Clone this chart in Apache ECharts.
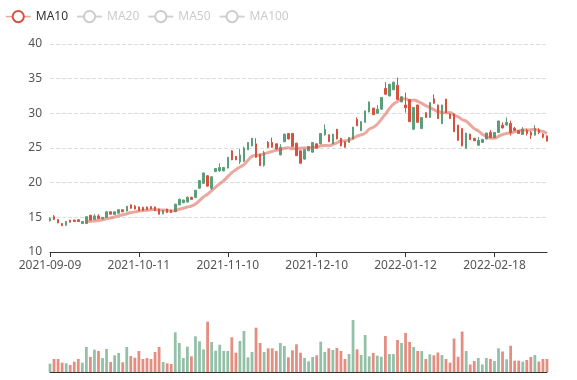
<!DOCTYPE html>
<html>
<head>
<meta charset="utf-8">
<script src="https://cdn.jsdelivr.net/npm/echarts@6/dist/echarts.min.js"></script>
<style>html,body{margin:0;padding:0;background:#fff;}#chart{width:577px;height:380px;}</style>
</head>
<body>
<div id="chart"></div>
<script>
const dates = [
'2021-09-09','2021-09-10','2021-09-13','2021-09-14','2021-09-15','2021-09-16','2021-09-17','2021-09-20','2021-09-21','2021-09-22',
'2021-09-23','2021-09-24','2021-09-27','2021-09-28','2021-09-29','2021-09-30','2021-10-01','2021-10-04','2021-10-05','2021-10-06',
'2021-10-07','2021-10-08','2021-10-11','2021-10-12','2021-10-13','2021-10-14','2021-10-15','2021-10-18','2021-10-19','2021-10-20',
'2021-10-21','2021-10-22','2021-10-25','2021-10-26','2021-10-27','2021-10-28','2021-10-29','2021-11-01','2021-11-02','2021-11-03',
'2021-11-04','2021-11-05','2021-11-08','2021-11-09','2021-11-10','2021-11-11','2021-11-12','2021-11-15','2021-11-16','2021-11-17',
'2021-11-18','2021-11-19','2021-11-22','2021-11-23','2021-11-24','2021-11-25','2021-11-26','2021-11-29','2021-11-30','2021-12-01',
'2021-12-02','2021-12-03','2021-12-06','2021-12-07','2021-12-08','2021-12-09','2021-12-10','2021-12-13','2021-12-14','2021-12-15',
'2021-12-16','2021-12-17','2021-12-20','2021-12-21','2021-12-22','2021-12-23','2021-12-24','2021-12-27','2021-12-28','2021-12-29',
'2021-12-30','2021-12-31','2022-01-04','2022-01-05','2022-01-06','2022-01-07','2022-01-10','2022-01-11','2022-01-12','2022-01-13',
'2022-01-14','2022-01-17','2022-01-18','2022-01-19','2022-01-20','2022-01-21','2022-01-24','2022-01-25','2022-01-26','2022-01-27',
'2022-01-28','2022-02-07','2022-02-08','2022-02-09','2022-02-10','2022-02-11','2022-02-14','2022-02-15','2022-02-16','2022-02-17',
'2022-02-18','2022-02-21','2022-02-22','2022-02-23','2022-02-24','2022-02-25','2022-02-28','2022-03-01','2022-03-02','2022-03-03',
'2022-03-04','2022-03-07','2022-03-08','2022-03-09'];

const opens = [
14.50,15.10,14.70,14.10,13.85,14.60,14.60,14.65,14.10,14.10,
15.30,14.70,15.20,14.80,15.00,15.80,15.40,15.60,16.10,15.90,
16.80,16.60,16.50,16.45,16.50,16.55,16.50,16.20,15.50,16.20,
16.05,15.80,16.80,17.10,17.20,17.90,17.85,19.20,19.90,21.00,
19.20,21.60,21.70,21.70,22.10,24.60,23.80,23.00,23.10,24.75,
25.30,25.60,24.10,22.50,25.80,25.80,25.60,24.00,25.90,27.10,
27.10,25.70,24.60,23.40,24.60,24.40,25.60,25.60,26.90,26.90,
25.60,27.70,26.40,25.90,25.80,26.30,29.15,27.50,28.70,30.20,
30.75,30.00,30.60,33.60,32.50,33.40,34.05,31.65,31.20,32.00,
27.70,31.20,27.80,30.10,29.40,32.10,31.20,28.50,32.05,29.90,
29.90,28.30,27.80,24.95,27.00,26.40,25.40,25.80,26.30,27.25,
26.50,27.25,28.30,28.30,28.55,27.85,27.50,26.95,27.55,27.25,
26.85,27.60,27.00,26.75];

const closes = [
14.85,14.70,14.20,13.80,14.40,14.30,14.40,14.40,14.40,15.10,
14.60,15.20,14.80,15.00,15.80,15.45,15.80,16.10,15.80,16.60,
16.30,16.20,15.95,16.00,16.10,16.20,15.95,15.45,16.00,15.70,
15.70,16.90,17.60,17.50,17.90,17.60,18.90,20.30,21.40,19.50,
20.85,22.05,22.20,22.20,23.65,23.30,23.30,24.00,25.00,25.80,
26.40,23.65,22.45,24.30,25.10,25.10,24.85,25.10,27.00,26.30,
25.20,23.90,22.80,24.75,25.20,25.80,25.00,27.10,27.70,25.90,
27.00,26.30,25.30,25.10,26.50,28.00,28.20,28.80,30.35,31.65,
29.80,30.60,32.30,32.75,34.20,34.50,32.00,32.40,30.80,28.80,
30.85,28.70,29.40,29.40,31.55,31.45,29.25,31.20,30.10,29.25,
27.35,26.10,25.30,27.15,26.20,26.05,26.10,26.25,27.15,26.50,
27.25,28.90,27.90,28.70,27.25,27.55,27.10,27.70,27.10,26.85,
27.80,27.25,26.55,26.00];

const lows = [
14.40,14.60,14.15,13.75,13.80,14.25,14.35,14.35,14.05,14.05,
14.55,14.60,14.75,14.70,14.95,15.40,15.35,15.55,15.75,15.85,
16.25,16.15,15.90,15.95,16.05,16.15,15.90,15.40,15.45,15.65,
15.65,15.75,16.75,17.05,17.15,17.55,17.80,19.10,19.85,19.45,
18.95,21.55,21.55,21.65,22.05,23.25,23.25,22.70,23.00,24.70,
25.25,23.60,22.40,22.30,25.05,25.05,24.80,23.95,25.85,26.25,
25.15,23.85,22.75,23.30,24.55,24.35,24.95,25.55,26.80,25.85,
25.55,26.25,25.25,25.05,25.75,26.25,28.15,27.45,28.65,30.15,
29.75,29.95,30.55,32.70,32.45,33.35,31.95,31.60,30.10,28.75,
27.65,28.65,27.75,29.35,29.35,31.40,29.20,28.45,30.05,29.20,
27.30,26.05,25.25,24.90,26.15,26.00,25.35,25.75,26.25,26.45,
26.45,27.20,27.80,28.25,26.80,27.40,27.05,26.90,26.80,26.30,
26.80,27.00,26.40,25.95];

const highs = [
15.00,15.35,14.75,14.15,14.45,14.65,14.65,14.70,14.45,15.15,
15.35,15.45,15.45,15.05,15.85,15.85,15.85,16.20,16.15,16.65,
16.85,16.80,16.55,16.50,16.55,16.60,16.55,16.25,16.05,16.25,
16.10,16.95,17.70,17.55,18.00,17.95,18.95,20.35,21.45,21.10,
20.90,22.10,22.80,22.25,23.70,24.70,23.85,24.85,25.20,25.85,
26.45,26.40,24.15,24.60,26.00,26.50,25.65,25.55,27.05,27.15,
27.15,25.75,24.65,24.80,25.25,25.85,25.65,27.15,28.40,26.95,
27.05,27.75,26.45,25.95,26.55,28.05,29.40,28.85,30.40,31.70,
30.80,31.20,32.35,34.50,34.25,34.55,35.15,32.45,33.00,32.05,
30.90,31.25,29.45,30.15,31.60,32.75,31.25,31.25,32.10,29.95,
29.95,28.35,27.85,27.20,27.05,26.45,26.60,26.30,27.20,27.60,
27.30,28.95,28.70,29.40,28.95,28.05,27.55,28.00,27.80,27.45,
28.30,27.85,27.10,26.80];

const volumes = [
83000,130000,130000,93000,87000,70000,103000,130000,93000,250000,
150000,223000,210000,140000,230000,100000,167000,190000,97000,250000,
160000,143000,210000,130000,140000,130000,200000,250000,100000,87000,
80000,397000,290000,140000,253000,157000,357000,307000,227000,503000,
300000,213000,273000,210000,210000,347000,193000,310000,410000,147000,
200000,443000,290000,200000,237000,237000,210000,290000,260000,147000,
217000,277000,193000,140000,107000,150000,167000,303000,200000,237000,
220000,240000,210000,130000,180000,520000,227000,170000,370000,157000,
190000,163000,153000,360000,180000,180000,320000,290000,390000,300000,
250000,210000,210000,130000,177000,167000,195000,170000,130000,93000,
335000,152000,405000,210000,75000,110000,140000,75000,140000,130000,
110000,237000,205000,127000,263000,113000,113000,103000,120000,150000,
170000,105000,130000,130000];

const legendNames = ['MA10', 'MA20', 'MA50', 'MA100'];
const upColor = '#5b9e7a';
const downColor = '#d6523f';
const FONT = 'Noto Sans';

function calculateMA(n) {
  const out = [];
  for (let i = 0; i < closes.length; i++) {
    if (i < n - 1) { out.push('-'); continue; }
    let s = 0;
    for (let j = 0; j < n; j++) s += closes[i - j];
    out.push(+(s / n).toFixed(3));
  }
  return out;
}

const kData = dates.map((d, i) => [opens[i], closes[i], lows[i], highs[i]]);
const volData = volumes.map((v, i) => ({
  value: v,
  itemStyle: { color: closes[i] >= opens[i] ? upColor : downColor, opacity: 0.65 }
}));

const chart = echarts.init(document.getElementById('chart'), null, { renderer: 'canvas' });
chart.setOption({
  animation: false,
  textStyle: { fontFamily: FONT },
  legend: {
    left: 0, top: 5,
    data: legendNames,
    selected: { MA10: true, MA20: false, MA50: false, MA100: false },
    inactiveColor: '#ccc',
    lineStyle: { width: 1.5 },
    itemStyle: { borderWidth: 1.2 },
    textStyle: { color: '#333', fontSize: 12, fontFamily: FONT }
  },
  grid: [
    { left: 50, right: 30, top: 44, height: 208 },
    { left: 50, right: 30, top: 312, height: 60 }
  ],
  xAxis: [
    {
      type: 'category', data: dates, boundaryGap: false,
      axisLine: { onZero: false, lineStyle: { color: '#333' } },
      axisTick: { show: true, interval: 21, lineStyle: { color: '#333' } },
      axisLabel: { interval: 21, color: '#555', fontSize: 12, fontFamily: FONT },
      splitLine: { show: false },
      min: 'dataMin', max: 'dataMax'
    },
    {
      type: 'category', gridIndex: 1, data: dates, boundaryGap: false,
      axisLine: { onZero: false, lineStyle: { color: '#333' } },
      axisTick: { show: false }, axisLabel: { show: false },
      splitLine: { show: false },
      min: 'dataMin', max: 'dataMax'
    }
  ],
  yAxis: [
    {
      type: 'value', min: 10, max: 40, interval: 5,
      axisLine: { show: false }, axisTick: { show: false },
      axisLabel: { color: '#555', fontSize: 12, fontFamily: FONT },
      splitLine: { lineStyle: { type: 'dashed', color: '#ddd' } }
    },
    {
      type: 'value', gridIndex: 1, min: 0, max: 600000,
      axisLine: { show: false }, axisTick: { show: false },
      axisLabel: { show: false }, splitLine: { show: false }
    }
  ],
  series: [
    {
      name: 'K', type: 'candlestick', data: kData,
      itemStyle: { color: upColor, color0: downColor, borderColor: upColor, borderColor0: downColor }
    },
    { name: 'MA10', type: 'line', data: calculateMA(10), smooth: true, showSymbol: false, color: '#d6523f', lineStyle: { width: 3, opacity: 0.5 } },
    { name: 'MA20', type: 'line', data: calculateMA(20), smooth: true, showSymbol: false, color: '#5470c6', lineStyle: { width: 3, opacity: 0.5 } },
    { name: 'MA50', type: 'line', data: calculateMA(50), smooth: true, showSymbol: false, color: '#fac858', lineStyle: { width: 3, opacity: 0.5 } },
    { name: 'MA100', type: 'line', data: calculateMA(100), smooth: true, showSymbol: false, color: '#73c0de', lineStyle: { width: 3, opacity: 0.5 } },
    { name: 'Volume', type: 'bar', xAxisIndex: 1, yAxisIndex: 1, data: volData }
  ]
});
</script>
</body>
</html>
